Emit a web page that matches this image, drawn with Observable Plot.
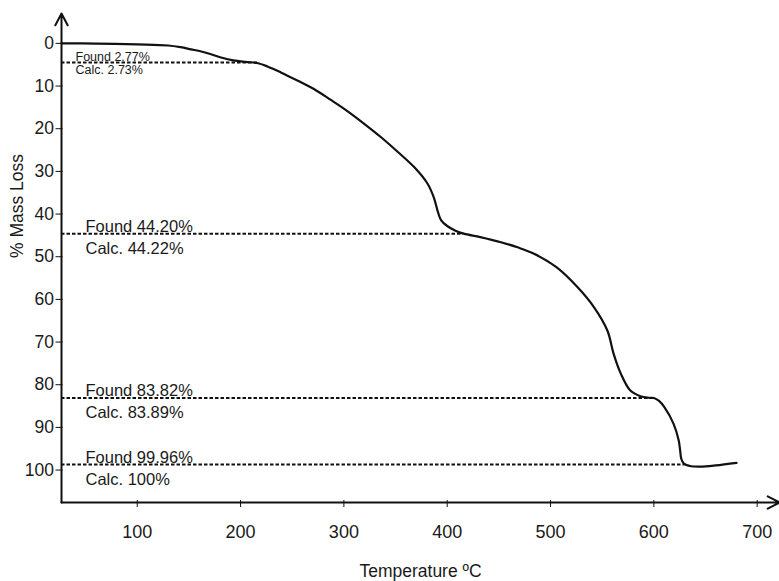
<!DOCTYPE html>
<html><head><meta charset="utf-8">
<script src="https://cdn.jsdelivr.net/npm/d3@7"></script>
<script src="https://cdn.jsdelivr.net/npm/@observablehq/plot@0.6"></script>
<style>
html,body{margin:0;padding:0;background:#fff;}
#chart svg{display:block;}
</style>
</head><body><div id="chart"></div>
<script>
// TGA curve (temperature °C, % mass loss)
const temperature = [26.7, 60, 100, 130, 142, 152, 162, 172, 181, 193, 205, 216, 226, 239, 255, 271, 287, 303, 320, 336, 352, 368, 381, 387, 391, 394, 400, 408, 416, 432, 452, 468, 484, 506, 526, 542, 555, 561, 568, 577, 587, 595, 600, 605, 610, 619, 624, 625.5, 626.5, 629, 636, 645, 660, 680];
const massLoss    = [0, 0.05, 0.25, 0.5, 0.9, 1.4, 1.9, 2.6, 3.3, 4.0, 4.35, 4.6, 5.4, 6.8, 8.7, 10.7, 13.2, 15.8, 18.9, 22, 25.4, 29, 32.9, 36.1, 39.5, 41.4, 42.8, 43.9, 44.6, 45.4, 46.6, 47.8, 49.3, 52.5, 57.1, 61.8, 67.3, 72.7, 77.4, 81.3, 82.7, 83.05, 83.1, 83.8, 85.2, 89.1, 93, 95.5, 97.3, 98.5, 99.1, 99.2, 98.9, 98.3];

// step levels
const levelValues = [4.5, 44.6, 83.1, 98.7];
const levelEnds   = [217, 416, 600, 630];
const foundLabels = ["Found 2.77%", "Found 44.20%", "Found 83.82%", "Found 99.96%"];
const calcLabels  = ["Calc. 2.73%", "Calc. 44.22%", "Calc. 83.89%", "Calc. 100%"];

const xTicks = [100, 200, 300, 400, 500, 600, 700];
const yTicks = [0, 10, 20, 30, 40, 50, 60, 70, 80, 90, 100];
const xExtent = [26.7, 721.6];
const yExtent = [-7, 107.6];

const curve = temperature.map((t, i) => ({t, v: massLoss[i]}));
const levels = levelValues.map((v, i) => ({v, end: levelEnds[i], found: foundLabels[i], calc: calcLabels[i], i}));
const smallLevels = levels.filter(d => d.i === 0);
const bigLevels = levels.filter(d => d.i !== 0);

const ink = "#1a1a1a";
const chart = Plot.plot({
  width: 779, height: 581,
  marginLeft: 61, marginRight: 0, marginTop: 13, marginBottom: 79,
  style: {fontFamily: "'Liberation Sans', Arial, sans-serif", color: ink, background: "#fff"},
  x: {domain: xExtent},
  y: {domain: yExtent, reverse: true},
  marks: [
    Plot.ruleY(levels, {y: "v", x1: xExtent[0], x2: "end", stroke: "#111", strokeWidth: 2, strokeDasharray: "3.5,2"}),
    Plot.line(curve, {x: "t", y: "v", curve: "catmull-rom", stroke: "#111", strokeWidth: 2.2}),
    // axes lines with open arrowheads
    Plot.arrow([0], {x1: xExtent[0], x2: xExtent[0], y1: yExtent[1], y2: yExtent[0], stroke: "#111", strokeWidth: 2, headLength: 10, headAngle: 55}),
    Plot.arrow([0], {x1: xExtent[0], x2: xExtent[1], y1: yExtent[1], y2: yExtent[1], stroke: "#111", strokeWidth: 2, headLength: 10, headAngle: 55}),
    Plot.axisX({ticks: xTicks, tickSize: 7, dy: -2, tickPadding: 18, fontSize: 18, label: null, stroke: "#111"}),
    Plot.axisY({ticks: yTicks, tickSize: 7, dx: 1.5, tickPadding: 2, fontSize: 17.5, label: null, stroke: "#111"}),
    Plot.text(["Temperature ºC"], {frameAnchor: "bottom", lineAnchor: "bottom", dy: 74, fontSize: 17.5, fill: ink}),
    Plot.text(["% Mass Loss"], {frameAnchor: "left", rotate: -90, lineAnchor: "top", dx: -51, fontSize: 17.5, fill: ink}),
    // level labels
    Plot.text(smallLevels, {x: xExtent[0], y: "v", text: "found", textAnchor: "start", lineAnchor: "bottom", dx: 14, dy: -2, fontSize: 12.5, fill: ink}),
    Plot.text(smallLevels, {x: xExtent[0], y: "v", text: "calc", textAnchor: "start", lineAnchor: "bottom", dx: 14, dy: 11.5, fontSize: 12.5, fill: ink}),
    Plot.text(bigLevels, {x: xExtent[0], y: "v", text: "found", textAnchor: "start", lineAnchor: "bottom", dx: 24, dy: -1.5, fontSize: 16.5, fill: ink}),
    Plot.text(bigLevels, {x: xExtent[0], y: "v", text: "calc", textAnchor: "start", lineAnchor: "bottom", dx: 24, dy: 20, fontSize: 16.5, fill: ink})
  ]
});
document.getElementById("chart").appendChild(chart);
</script>
</body></html>
